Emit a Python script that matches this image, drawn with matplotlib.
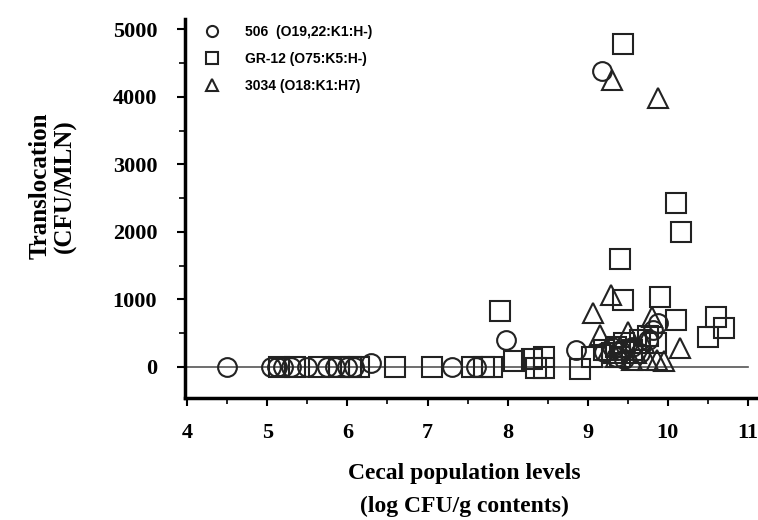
import numpy as np
import matplotlib.pyplot as plt
from matplotlib.ticker import MultipleLocator
from matplotlib.lines import Line2D

# strain 506 (circles)
x_506 = [4.5, 5.05, 5.12, 5.2, 5.3, 5.5, 5.75, 5.85, 6.0, 6.08, 6.3, 7.3, 7.6,
         7.98, 8.85, 9.18, 9.2, 9.3, 9.35, 9.4, 9.45, 9.55, 9.65, 9.75, 9.82, 9.88]
y_506 = [0, 0, 0, 0, 0, 0, 0, 0, 0, 0, 50, 0, 0,
         390, 250, 4380, 220, 300, 150, 250, 120, 300, 200, 400, 550, 650]

# strain GR-12 (squares)
x_gr12 = [5.15, 5.35, 5.65, 5.9, 6.05, 6.15, 6.6, 7.05, 7.55, 7.7, 7.8,
          7.9, 8.08, 8.3, 8.35, 8.45, 8.45, 8.9,
          9.05, 9.2, 9.3, 9.35, 9.4, 9.45, 9.55, 9.65, 9.75, 9.85,
          9.44, 9.41, 9.44, 9.9, 10.11, 10.11, 10.17, 10.5, 10.6, 10.7]
y_gr12 = [0, 0, 0, 0, 0, 0, 0, 0, 0, 0, 0,
          820, 90, 120, -20, 140, -20, -30,
          150, 250, 200, 300, 150, 350, 250, 400, 450, 350,
          990, 1600, 4780, 1040, 690, 2430, 2000, 440, 740, 580]

# strain 3034 (triangles)
x_3034 = [9.3, 9.88, 9.29, 9.07, 9.16, 9.5, 9.8, 10.15, 9.87,
          9.25, 9.35, 9.4, 9.55, 9.6, 9.7, 9.75, 9.95]
y_3034 = [4250, 3980, 1060, 790, 470, 520, 740, 280, 100,
          250, 150, 300, 100, 200, 350, 100, 80]

labels = ["506  (O19,22:K1:H-)", "GR-12 (O75:K5:H-)", "3034 (O18:K1:H7)"]

plt.rcParams["font.family"] = "Liberation Serif"
plt.rcParams["font.weight"] = "bold"

fig = plt.figure(figsize=(7.58, 5.2), dpi=100)
ax = fig.add_axes([0.244, 0.235, 0.753, 0.728])

ax.plot([4, 11], [0, 0], color="#555555", lw=1.2, zorder=1)

mk = dict(linestyle="none", markerfacecolor="none", markeredgecolor="#222222",
          markeredgewidth=1.5)
ax.plot(x_506, y_506, marker="o", markersize=13.5, zorder=3, **mk)
ax.plot(x_gr12, y_gr12, marker="s", markersize=14, zorder=3, **mk)
ax.plot(x_3034, y_3034, marker="^", markersize=14.5, zorder=3, **mk)

ax.set_xlim(3.97, 11.1)
ax.set_ylim(-460, 5150)
ax.xaxis.set_major_locator(MultipleLocator(1))
ax.xaxis.set_minor_locator(MultipleLocator(0.5))
ax.yaxis.set_major_locator(MultipleLocator(1000))
ax.yaxis.set_minor_locator(MultipleLocator(500))

for s in ["top", "right"]:
    ax.spines[s].set_visible(False)
for s in ["left", "bottom"]:
    ax.spines[s].set_linewidth(2.5)
ax.tick_params(which="major", length=6, width=1.5, labelsize=16)
ax.tick_params(axis="x", which="major", pad=12)
ax.tick_params(axis="y", which="major", pad=14)
ax.tick_params(which="minor", length=4, width=1.2)
for t in ax.get_xticklabels() + ax.get_yticklabels():
    t.set_fontweight("bold")

ax.set_xlabel("Cecal population levels\n(log CFU/g contents)", fontsize=17,
              fontweight="bold", linespacing=1.75)
ax.xaxis.set_label_coords(0.49, -0.172, transform=ax.transAxes)
ax.xaxis.label.set_va("top")
ax.set_ylabel("Translocation\n(CFU/MLN)", fontsize=18, fontweight="bold",
              linespacing=1.1)
ax.yaxis.set_label_coords(-0.19, 0.56, transform=ax.transAxes)

handles = [Line2D([], [], marker=m, markersize=8, **mk) for m in ["o", "s", "^"]]
ax.legend(handles, labels, loc="upper left", bbox_to_anchor=(0.025, 1.0),
          frameon=False, prop={"family": "Liberation Sans", "weight": "bold", "size": 10},
          handletextpad=1.9, labelspacing=0.95, borderaxespad=0.0, handlelength=1.0)

fig.savefig("out.png", dpi=100)
